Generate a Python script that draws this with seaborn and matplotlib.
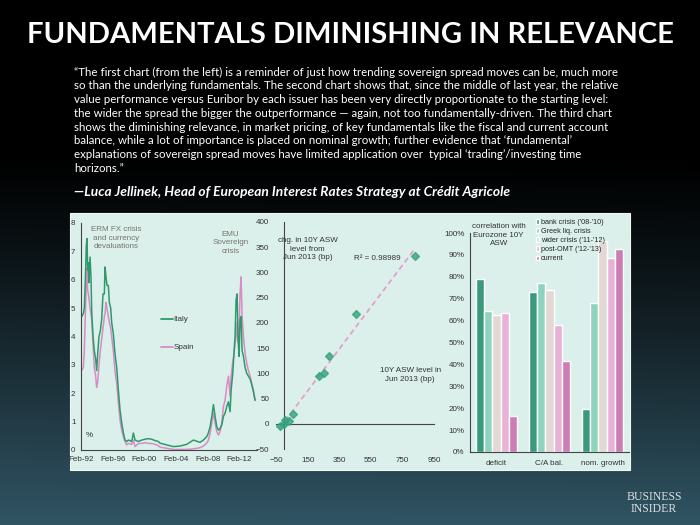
import numpy as np
import pandas as pd
import matplotlib
matplotlib.use("Agg")
import matplotlib.pyplot as plt
from matplotlib.patches import Rectangle
import seaborn as sns

# ---- data -------------------------------------------------------------
# chart 1: 10Y spread vs Bund (%), decimal years
years = [1992.16, 1992.37, 1992.50, 1992.63, 1992.75, 1992.84, 1992.92, 1993.01, 1993.09, 1993.22,
         1993.34, 1993.43, 1993.60, 1993.76, 1993.93, 1994.06, 1994.19, 1994.35, 1994.52, 1994.69,
         1994.86, 1995.03, 1995.11, 1995.24, 1995.36, 1995.53, 1995.66, 1995.83, 1995.95, 1996.16,
         1996.37, 1996.59, 1996.80, 1997.01, 1997.22, 1997.43, 1997.64, 1997.85, 1998.06, 1998.48,
         1998.69, 1998.90, 1999.32, 1999.74, 2000.16, 2000.59, 2001.01, 2001.43, 2001.85,
         2002.06, 2002.90, 2003.74, 2004.59, 2005.43, 2006.27, 2007.11, 2007.53, 2007.95, 2008.16,
         2008.38, 2008.59, 2008.80, 2009.01, 2009.22, 2009.43, 2009.64, 2009.85, 2010.06, 2010.27,
         2010.48, 2010.69, 2010.90, 2011.03, 2011.24, 2011.41, 2011.53, 2011.66, 2011.79, 2011.91,
         2012.04, 2012.16, 2012.29, 2012.42, 2012.59, 2012.80, 2013.01, 2013.22, 2013.43, 2013.64,
         2013.85, 2014.06]
italy = [4.7, 4.8, 5.0, 6.0, 7.2, 7.45, 6.35, 6.6, 5.9, 6.8,
         6.1, 4.9, 4.0, 3.5, 3.2, 2.8, 3.4, 4.0, 4.2, 4.6,
         5.5, 5.5, 6.45, 6.1, 5.8, 5.8, 5.2, 5.0, 4.5, 4.1,
         3.4, 2.9, 2.1, 1.4, 0.95, 0.6, 0.35, 0.3, 0.35, 0.3,
         0.6, 0.35, 0.3, 0.35, 0.38, 0.4, 0.38, 0.33, 0.3,
         0.24, 0.18, 0.12, 0.14, 0.2, 0.35, 0.27, 0.35, 0.47, 0.6,
         0.82, 1.18, 1.6, 1.18, 0.82, 0.7, 0.76, 0.88, 1.18, 1.3,
         1.53, 1.7, 1.35, 2.1, 2.7, 3.5, 4.0, 5.3, 5.5, 3.9,
         3.3, 4.6, 4.7, 3.5, 3.3, 2.9, 2.7, 2.6, 2.5, 2.3,
         2.05, 1.75]
spain = [2.8, 2.9, 3.5, 4.8, 5.8, 6.4, 5.65, 5.5, 5.3, 5.0,
         4.8, 4.6, 3.75, 2.9, 2.6, 2.2, 2.4, 3.0, 3.5, 3.9,
         4.3, 4.7, 4.8, 5.2, 5.0, 4.7, 4.5, 4.3, 4.0, 3.5,
         2.8, 2.35, 1.65, 1.05, 0.7, 0.47, 0.3, 0.18, 0.23, 0.2,
         0.35, 0.12, 0.23, 0.23, 0.26, 0.23, 0.23, 0.2, 0.15,
         0.1, 0.06, 0.02, 0.02, 0.02, 0.04, 0.08, 0.14, 0.24, 0.35,
         0.6, 0.95, 1.3, 0.95, 0.65, 0.53, 0.65, 0.95, 1.53, 1.75,
         2.25, 2.6, 1.9, 2.6, 3.1, 3.4, 3.75, 4.0, 4.5, 3.8,
         4.2, 5.5, 6.1, 4.7, 4.0, 3.4, 3.05, 2.8, 2.6, 2.35,
         2.1, 1.75]
date_ticks = [1992.08, 1996.08, 2000.08, 2004.08, 2008.08, 2012.08]
date_labels = ["Feb-92", "Feb-96", "Feb-00", "Feb-04", "Feb-08", "Feb-12"]

# chart 2: ASW level Jun 2013 vs change since (bp)
asw_level = [-27, -2, 9, 34, 57, 219, 255, 287, 457, 830]
asw_change = [-4, 0, 8, 5, 19, 95, 100, 135, 217, 333]

# chart 3: correlation with Eurozone 10Y ASW (%)
factors = ["deficit", "C/A bal.", "nom. growth"]
periods = ["bank crisis ('08-'10)", "Greek liq. crisis", "wider crisis ('11-'12)",
           "post-OMT ('12-'13)", "current"]
corr_deficit = [78.8, 64.2, 62.7, 63.6, 16.3]
corr_ca = [73.0, 77.2, 73.8, 58.1, 41.6]
corr_growth = [19.6, 68.2, 96.3, 88.6, 92.5]

quote_lines = [
    "\u201cThe first chart (from the left) is a reminder of just how trending sovereign spread moves can be, much more",
    "so than the underlying fundamentals. The second chart shows that, since the middle of last year, the relative",
    "value performance versus Euribor by each issuer has been very directly proportionate to the starting level:",
    "the wider the spread the bigger the outperformance \u2014 again, not too fundamentally-driven. The third chart",
    "shows the diminishing relevance, in market pricing, of key fundamentals like the fiscal and current account",
    "balance, while a lot of importance is placed on nominal growth; further evidence that \u2018fundamental\u2019",
    "explanations of sovereign spread moves have limited application over  typical \u2018trading\u2019/investing time",
    "horizons.\u201d",
]

# ---- style ------------------------------------------------------------
sns.set_style("white")
plt.rcParams["font.family"] = ["Liberation Sans", "DejaVu Sans"]
plt.rcParams["font.size"] = 5.8

green = "#2e9a6c"
pink = "#d98bc6"
bar_colors = ["#3b9a7a", "#8ed3bd", "#e3d9d4", "#e8b2d6", "#cc7db5"]
panel_bg = "#dbf0ea"
txt_grey = "#75756c"
txt_dark = "#333333"
spine_col = "#444444"
fs = 5.8

fig = plt.figure(figsize=(7, 5.25), dpi=100)

# background gradient + chart panel
bg = fig.add_axes([0, 0, 1, 1])
yy, xx = np.mgrid[0:1:200j, 0:1:200j]
t = np.clip((yy - 0.30) / 0.70, 0, 1) ** 1.1 * (1 - 0.25 * xx * (1 - yy))
top = np.array([0.0, 0.0, 0.0])
bottom = np.array([0.19, 0.33, 0.39])
img = top[None, None, :] * (1 - t[..., None]) + bottom[None, None, :] * t[..., None]
bg.imshow(img, extent=[0, 1, 0, 1], aspect="auto", origin="upper")
bg.add_patch(Rectangle((70 / 700, 1 - 470 / 525), 560 / 700, 257 / 525,
                       facecolor=panel_bg, edgecolor="#f2f7f5", lw=0.8))
bg.set_xlim(0, 1)
bg.set_ylim(0, 1)
bg.axis("off")

# title, quote, attribution
fig.text(0.5, 1 - 35 / 525, "FUNDAMENTALS DIMINISHING IN RELEVANCE", color="white",
         ha="center", va="center", fontsize=21, family=["Lato", "DejaVu Sans"], fontweight="bold")
for i, line in enumerate(quote_lines):
    fig.text(74 / 700, 1 - (72 + i * 13.8) / 525, line, color="white", ha="left", va="center",
             fontsize=8.3, family=["Lato", "DejaVu Sans"])
fig.text(74 / 700, 1 - 192 / 525,
         "\u2014Luca Jellinek, Head of European Interest Rates Strategy at Cr\u00e9dit Agricole",
         color="white", ha="left", va="center", fontsize=9.95, style="italic", fontweight="bold",
         family=["Lato", "DejaVu Sans"])
fig.text(654 / 700, 1 - 503 / 525, "BUSINESS\nINSIDER", color="#d8dfe2", ha="center", va="center",
         fontsize=8.5, family=["Liberation Serif", "DejaVu Serif"], linespacing=1.1)


def style_ax(ax):
    ax.set_facecolor("none")
    for s in ["top", "right"]:
        ax.spines[s].set_visible(False)
    for s in ["left", "bottom"]:
        ax.spines[s].set_color(spine_col)
        ax.spines[s].set_linewidth(0.8)
    ax.tick_params(colors=txt_dark, labelsize=fs, length=2.5, width=0.7, pad=1.5)


# ---- chart 1: spreads -------------------------------------------------
ax1 = fig.add_axes([81 / 700, 1 - 450 / 525, 176 / 700, 227 / 525])
style_ax(ax1)
spreads = pd.DataFrame({"date": years * 2, "spread": italy + spain,
                        "country": ["Italy"] * len(years) + ["Spain"] * len(years)})
sns.lineplot(data=spreads, x="date", y="spread", hue="country", hue_order=["Spain", "Italy"],
             palette={"Italy": green, "Spain": pink}, lw=1.1, ax=ax1, legend=False)
ax1.set_xlim(1992.08, 2014.3)
ax1.set_ylim(0, 8)
ax1.set_yticks(range(0, 9))
ax1.set_xticks(date_ticks)
ax1.set_xticklabels(date_labels)
ax1.set_xlabel("")
ax1.set_ylabel("")
ax1.text(0.2, 0.985, "ERM FX crisis\nand currency\ndevaluations", transform=ax1.transAxes,
         ha="center", va="top", color=txt_grey, fontsize=fs, linespacing=1.3)
ax1.text(0.85, 0.965, "EMU\nSovereign\ncrisis", transform=ax1.transAxes,
         ha="center", va="top", color=txt_grey, fontsize=fs, linespacing=1.3)
ax1.text(0.045, 0.065, "%", transform=ax1.transAxes, ha="center", va="center", fontsize=fs,
         color=txt_dark)
ax1.plot([0.455, 0.52], [0.575, 0.575], color=green, lw=1.3, transform=ax1.transAxes)
ax1.plot([0.455, 0.52], [0.452, 0.452], color=pink, lw=1.3, transform=ax1.transAxes)
ax1.text(0.525, 0.575, "Italy", transform=ax1.transAxes, va="center", fontsize=fs, color=txt_dark)
ax1.text(0.525, 0.452, "Spain", transform=ax1.transAxes, va="center", fontsize=fs, color=txt_dark)

# ---- chart 2: regression ----------------------------------------------
ax2 = fig.add_axes([276 / 700, 1 - 449 / 525, 158 / 700, 227 / 525])
style_ax(ax2)
sns.regplot(x=asw_level, y=asw_change, ci=None, marker="D", ax=ax2,
            scatter_kws={"s": 16, "color": "#34a27c", "zorder": 3},
            line_kws={"color": "#e49fcf", "ls": (0, (3, 2)), "lw": 1.3, "zorder": 2})
ax2.set_xlim(-50, 950)
ax2.set_ylim(-50, 400)
ax2.spines["left"].set_position(("data", 0))
ax2.spines["bottom"].set_position(("data", 0))
ax2.set_xticks(range(-50, 951, 200))
ax2.set_yticks(range(-50, 401, 50))
ax2.tick_params(axis="y", pad=8)
ax2.tick_params(axis="x", direction="inout", length=4, pad=22)
ax2.text(0.2, 0.935, "chg. in 10Y ASW\nlevel from\nJun 2013 (bp)", transform=ax2.transAxes,
         ha="center", va="top", fontsize=fs, color=txt_dark, linespacing=1.35)
ax2.text(0.64, 0.84, "R\u00b2 = 0.98989", transform=ax2.transAxes, ha="center", va="center",
         fontsize=fs, color=txt_dark)
ax2.text(0.85, 0.36, "10Y ASW level in\nJun 2013 (bp)", transform=ax2.transAxes,
         ha="center", va="top", fontsize=fs, color=txt_dark, linespacing=1.35)

# ---- chart 3: correlations --------------------------------------------
ax3 = fig.add_axes([470 / 700, 1 - 452 / 525, 159 / 700, 219 / 525])
style_ax(ax3)
corr = pd.DataFrame({"factor": np.repeat(factors, len(periods)),
                     "period": periods * len(factors),
                     "corr": corr_deficit + corr_ca + corr_growth})
sns.barplot(data=corr, x="factor", y="corr", hue="period", hue_order=periods,
            palette=bar_colors, width=0.78, saturation=1, ax=ax3)
ax3.set_xlim(-0.5, 2.5)
ax3.set_ylim(0, 100)
ax3.set_yticks(range(0, 101, 10))
ax3.set_yticklabels([f"{v}%" for v in range(0, 101, 10)])
ax3.set_xticks([0.5, 1.5], minor=True)
ax3.tick_params(axis="x", which="major", length=0, pad=6)
ax3.tick_params(axis="x", which="minor", length=3, width=0.7, color=spine_col)
ax3.set_xlabel("")
ax3.set_ylabel("")
ax3.text(0.18, 1.045, "correlation with\nEurozone 10Y\nASW", transform=ax3.transAxes,
         ha="center", va="top", fontsize=fs, color=txt_dark, linespacing=1.3)
ax3.legend(loc="upper left", bbox_to_anchor=(0.415, 1.065), frameon=False, fontsize=5.2,
           handlelength=0.45, handleheight=0.6, handletextpad=0.25, labelspacing=0.3,
           borderpad=0, borderaxespad=0)

plt.savefig("out.png", dpi=100)
